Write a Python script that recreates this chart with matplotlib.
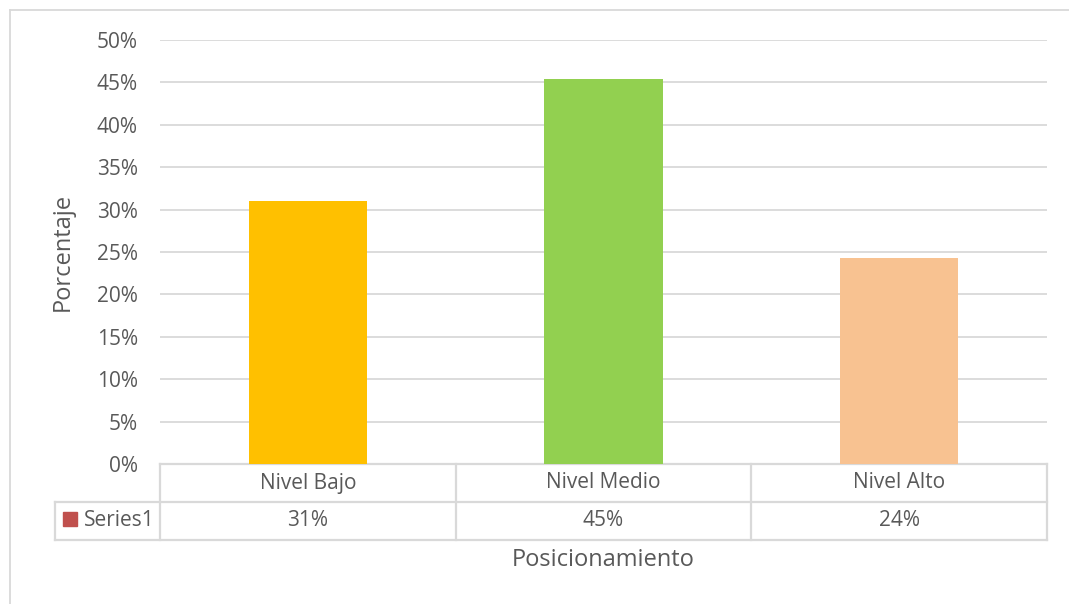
import matplotlib
matplotlib.use("Agg")
import matplotlib.pyplot as plt
from matplotlib.lines import Line2D
from matplotlib.patches import Rectangle
import matplotlib.transforms as mtransforms

# chart data
categories = ["Nivel Bajo", "Nivel Medio", "Nivel Alto"]
values = [0.310, 0.454, 0.243]
table_labels = ["31%", "45%", "24%"]
series_name = "Series1"
bar_colors = ["#FFC000", "#92D050", "#F8C291"]
y_ticks = [0, 0.05, 0.10, 0.15, 0.20, 0.25, 0.30, 0.35, 0.40, 0.45, 0.50]

W, H = 1069, 604
text_col = "#595959"
grid_col = "#D9D9D9"
plt.rcParams["font.family"] = ["Open Sans", "DejaVu Sans"]

fig = plt.figure(figsize=(W / 100, H / 100), dpi=100)
ax = fig.add_axes([160 / W, (H - 464) / H, (1047 - 160) / W, (464 - 40) / H])

x = list(range(len(categories)))
ax.bar(x, values, width=0.40, color=bar_colors, zorder=3)
ax.set_xlim(-0.5, len(categories) - 0.5)
ax.set_ylim(0, 0.5)
ax.set_yticks(y_ticks)
ax.set_yticklabels([f"{int(round(t * 100))}%" for t in y_ticks])
ax.set_xticks([])
ax.tick_params(axis="y", length=0, pad=16, labelsize=15, labelcolor=text_col)
ax.grid(axis="y", color=grid_col, lw=1.3, zorder=0)
for s in ax.spines.values():
    s.set_visible(False)
ax.set_ylabel("Porcentaje", fontsize=17, color=text_col, labelpad=16)

# data table below the axis
trans = mtransforms.blended_transform_factory(ax.transData, ax.transAxes)
row_h = 38 / 424
unit = 887 / 3
left_x = -0.5 - 105 / unit
n = len(categories)
lkw = dict(transform=trans, color=grid_col, lw=1.6, clip_on=False)
ax.add_line(Line2D([-0.5, n - 0.5], [0, 0], **lkw))
ax.add_line(Line2D([left_x, n - 0.5], [-row_h, -row_h], **lkw))
ax.add_line(Line2D([left_x, n - 0.5], [-2 * row_h, -2 * row_h], **lkw))
ax.add_line(Line2D([left_x, left_x], [-row_h, -2 * row_h], **lkw))
for b in range(n + 1):
    ax.add_line(Line2D([b - 0.5, b - 0.5], [0, -2 * row_h], **lkw))
for i, (c, lab) in enumerate(zip(categories, table_labels)):
    ax.text(i, -row_h / 2, c, transform=trans, ha="center", va="center",
            fontsize=15, color=text_col)
    ax.text(i, -1.5 * row_h, lab, transform=trans, ha="center", va="center",
            fontsize=15, color=text_col)
ax.text(-0.5 - 5 / unit, -1.5 * row_h, series_name, transform=trans,
        ha="right", va="center", fontsize=15, color=text_col)
fig.add_artist(Rectangle((63 / W, (H - 526) / H), 14 / W, 14 / H,
                         transform=fig.transFigure, color="#C0504D"))

fig.text(603 / W, (H - 560) / H, "Posicionamiento", ha="center", va="center",
         fontsize=17, color=text_col)

# outer chart border
fig.add_artist(Line2D([10 / W, 10 / W], [(H - 10) / H, 0], transform=fig.transFigure,
                      color=grid_col, lw=1.3))
fig.add_artist(Line2D([10 / W, 1], [(H - 10) / H, (H - 10) / H], transform=fig.transFigure,
                      color=grid_col, lw=1.3))

fig.savefig("out.png", dpi=100, facecolor="white")
